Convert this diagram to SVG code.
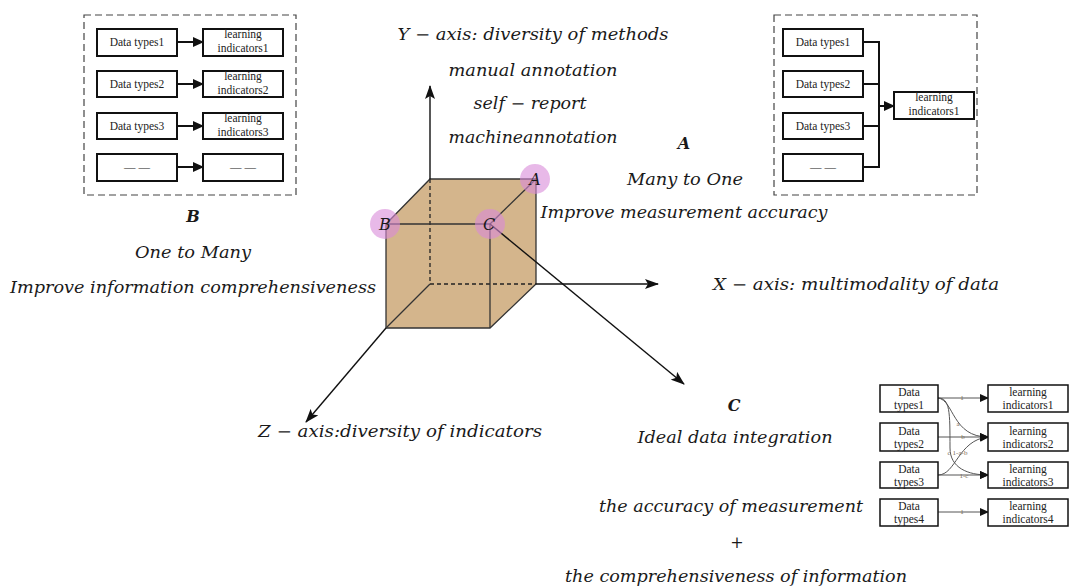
<svg xmlns="http://www.w3.org/2000/svg" width="1071" height="586" viewBox="0 0 1071 586">
  <style>
    .math { font-family: "DejaVu Serif", "Liberation Serif", serif; font-style: italic; font-size: 16px; fill: #1a1a1a; text-anchor: middle; }
    .bold { font-weight: bold; }
    .box { fill: #ffffff; stroke: #111111; stroke-width: 2; }
    .boxc { fill: #ffffff; stroke: #111111; stroke-width: 1.5; }
    .small { font-family: "Liberation Serif", "DejaVu Serif", serif; font-size: 11.5px; fill: #222222; text-anchor: middle; }
    .frame { fill: none; stroke: #444444; stroke-width: 1.2; stroke-dasharray: 7 4; }
    .link { fill: none; stroke: #111111; stroke-width: 2; }
    .axis { fill: none; stroke: #111111; stroke-width: 1.4; }
    .edge { fill: none; stroke: #333333; stroke-width: 1.3; }
    .hidden { fill: none; stroke: #222222; stroke-width: 1.3; stroke-dasharray: 4 3; }
    .gray { fill: none; stroke: #555555; stroke-width: 1; }
    .tiny { font-family: "Liberation Serif", "DejaVu Serif", serif; font-size: 7px; fill: #7a6a55; text-anchor: middle; }
    .spot { fill: #d98ad8; fill-opacity: 0.6; }
  </style>
  <defs>
    <marker id="headBig" markerUnits="userSpaceOnUse" markerWidth="14" markerHeight="10" refX="13" refY="5" orient="auto">
      <path d="M0,0 L14,5 L0,10 L3,5 Z" fill="#111111"/>
    </marker>
    <marker id="headBox" markerUnits="userSpaceOnUse" markerWidth="11" markerHeight="10" refX="10" refY="5" orient="auto">
      <path d="M0,0 L11,5 L0,10 Z" fill="#111111"/>
    </marker>
    <marker id="headSmall" markerUnits="userSpaceOnUse" markerWidth="9" markerHeight="8" refX="8" refY="4" orient="auto">
      <path d="M0,0 L9,4 L0,8 Z" fill="#111111"/>
    </marker>
  </defs>

  <!-- ===== Cube with the three axes ===== -->
  <g id="cube">
    <path d="M386,224 L430,179 L536,179 L536,284 L490,328 L386,328 Z" fill="#d4b58c" stroke="#333333" stroke-width="1.3"/>
    <!-- hidden edges -->
    <line class="hidden" x1="430" y1="179" x2="430" y2="284"/>
    <line class="hidden" x1="430" y1="284" x2="536" y2="284"/>
    <!-- visible edges -->
    <line class="edge" x1="386" y1="224" x2="490" y2="224"/>
    <line class="edge" x1="490" y1="224" x2="490" y2="328"/>
    <line class="edge" x1="490" y1="224" x2="536" y2="179"/>
    <line class="edge" x1="430" y1="284" x2="386" y2="328"/>
  </g>

  <g id="connectors">
    <!-- Y axis -->
    <line class="axis" x1="430" y1="179" x2="430" y2="86" marker-end="url(#headBig)"/>
    <!-- X axis -->
    <line class="axis" x1="536" y1="284" x2="658" y2="284" marker-end="url(#headBig)"/>
    <!-- Z axis -->
    <line class="axis" x1="386" y1="328" x2="306" y2="422" marker-end="url(#headBig)"/>
    <!-- towards C -->
    <line class="axis" x1="490" y1="224" x2="684" y2="384" marker-end="url(#headBig)"/>

    <!-- panel B: one to many -->
    <line class="link" x1="177" y1="42" x2="203" y2="42" marker-end="url(#headBox)"/>
    <line class="link" x1="177" y1="84" x2="203" y2="84" marker-end="url(#headBox)"/>
    <line class="link" x1="177" y1="126" x2="203" y2="126" marker-end="url(#headBox)"/>
    <line class="link" x1="177" y1="167" x2="203" y2="167" marker-end="url(#headBox)"/>

    <!-- panel A: many to one -->
    <path class="link" d="M863,42 H879 M863,84 H879 M863,126 H879 M863,167 H879 M879,41 V168"/>
    <line class="link" x1="879" y1="106" x2="894" y2="106" marker-end="url(#headBox)"/>

    <!-- panel C: weighted integration -->
    <line class="gray" x1="938" y1="398" x2="988" y2="398" marker-end="url(#headSmall)"/>
    <path class="gray" d="M938,398 C954,400 952,437 988,437" marker-end="url(#headSmall)"/>
    <line class="gray" x1="938" y1="437" x2="988" y2="437" marker-end="url(#headSmall)"/>
    <path class="gray" d="M938,398 C950,398 950,412 950,448 C950,468 968,475 988,475" marker-end="url(#headSmall)"/>
    <path class="gray" d="M938,475 C956,475 958,440 988,437" marker-end="url(#headSmall)"/>
    <line class="gray" x1="938" y1="475" x2="988" y2="475" marker-end="url(#headSmall)"/>
    <line class="gray" x1="938" y1="512" x2="988" y2="512" marker-end="url(#headSmall)"/>
    <text class="tiny" x="962" y="400">1</text>
    <text class="tiny" x="958" y="426">a</text>
    <text class="tiny" x="963" y="439">b</text>
    <text class="tiny" x="949" y="455">c</text>
    <text class="tiny" x="960" y="455">1-a-b</text>
    <text class="tiny" x="964" y="478">1-c</text>
    <text class="tiny" x="962" y="514">1</text>
  </g>

  <!-- highlighted corners -->
  <g id="pointA">
    <circle class="spot" cx="535" cy="179" r="15"/>
    <text class="math" x="535" y="185">A</text>
  </g>
  <g id="pointB">
    <circle class="spot" cx="385" cy="224" r="15"/>
    <text class="math" x="385" y="230">B</text>
  </g>
  <g id="pointC">
    <circle class="spot" cx="490" cy="224" r="15"/>
    <text class="math" x="489" y="230">C</text>
  </g>

  <!-- axis captions -->
  <g id="yLabel">
    <text class="math" x="533" y="40" textLength="271" lengthAdjust="spacingAndGlyphs">Y − axis: diversity of methods</text>
    <text class="math" x="533" y="76" textLength="169" lengthAdjust="spacingAndGlyphs">manual annotation</text>
    <text class="math" x="530" y="109" textLength="113" lengthAdjust="spacingAndGlyphs">self − report</text>
    <text class="math" x="533" y="143" textLength="169" lengthAdjust="spacingAndGlyphs">machineannotation</text>
  </g>
  <g id="xLabel">
    <text class="math" x="856" y="290" textLength="286" lengthAdjust="spacingAndGlyphs">X − axis: multimodality of data</text>
  </g>
  <g id="zLabel">
    <text class="math" x="400" y="437" textLength="284" lengthAdjust="spacingAndGlyphs">Z − axis:diversity of indicators</text>
  </g>

  <!-- A caption -->
  <g id="captionA">
    <text class="math bold" x="684" y="149">A</text>
    <text class="math" x="685" y="185" textLength="116" lengthAdjust="spacingAndGlyphs">Many to One</text>
    <text class="math" x="684" y="218" textLength="287" lengthAdjust="spacingAndGlyphs">Improve measurement accuracy</text>
  </g>

  <!-- B caption -->
  <g id="captionB">
    <text class="math bold" x="193" y="222">B</text>
    <text class="math" x="193" y="258" textLength="116" lengthAdjust="spacingAndGlyphs">One to Many</text>
    <text class="math" x="193" y="293" textLength="366" lengthAdjust="spacingAndGlyphs">Improve information comprehensiveness</text>
  </g>

  <!-- C caption -->
  <g id="captionC">
    <text class="math bold" x="734" y="411">C</text>
    <text class="math" x="735" y="443" textLength="195" lengthAdjust="spacingAndGlyphs">Ideal data integration</text>
    <text class="math" x="731" y="512" textLength="264" lengthAdjust="spacingAndGlyphs">the accuracy of measurement</text>
    <text class="math" x="737" y="548" style="font-style:normal">+</text>
    <text class="math" x="736" y="582" textLength="342" lengthAdjust="spacingAndGlyphs">the comprehensiveness of information</text>
  </g>

  <!-- ===== Panel B: one data type to one indicator ===== -->
  <g id="panelB">
    <rect class="frame" x="84" y="15" width="212" height="180"/>
    <g id="b-data1"><rect class="box" x="97" y="29" width="80" height="27"/><text class="small" x="137" y="46">Data types1</text></g>
    <g id="b-data2"><rect class="box" x="97" y="71" width="80" height="26"/><text class="small" x="137" y="88">Data types2</text></g>
    <g id="b-data3"><rect class="box" x="97" y="113" width="80" height="26"/><text class="small" x="137" y="130">Data types3</text></g>
    <g id="b-data4"><rect class="box" x="97" y="154" width="80" height="27"/><text class="small" x="137" y="171">— —</text></g>
    <g id="b-ind1"><rect class="box" x="203" y="29" width="80" height="27"/><text class="small" x="243" y="38">learning</text><text class="small" x="243" y="52">indicators1</text></g>
    <g id="b-ind2"><rect class="box" x="203" y="71" width="80" height="26"/><text class="small" x="243" y="80">learning</text><text class="small" x="243" y="94">indicators2</text></g>
    <g id="b-ind3"><rect class="box" x="203" y="113" width="80" height="26"/><text class="small" x="243" y="122">learning</text><text class="small" x="243" y="136">indicators3</text></g>
    <g id="b-ind4"><rect class="box" x="203" y="154" width="80" height="27"/><text class="small" x="243" y="171">— —</text></g>
  </g>

  <!-- ===== Panel A: several data types to one indicator ===== -->
  <g id="panelA">
    <rect class="frame" x="774" y="15" width="203" height="180"/>
    <g id="a-data1"><rect class="box" x="783" y="29" width="80" height="27"/><text class="small" x="823" y="46">Data types1</text></g>
    <g id="a-data2"><rect class="box" x="783" y="71" width="80" height="26"/><text class="small" x="823" y="88">Data types2</text></g>
    <g id="a-data3"><rect class="box" x="783" y="113" width="80" height="26"/><text class="small" x="823" y="130">Data types3</text></g>
    <g id="a-data4"><rect class="box" x="783" y="154" width="80" height="27"/><text class="small" x="823" y="171">— —</text></g>
    <g id="a-ind1"><rect class="box" x="894" y="92" width="80" height="27"/><text class="small" x="934" y="101">learning</text><text class="small" x="934" y="115">indicators1</text></g>
  </g>

  <!-- ===== Panel C: weighted mapping ===== -->
  <g id="panelC">
    <g id="c-data1"><rect class="boxc" x="880" y="385" width="58" height="27"/><text class="small" x="909" y="396">Data</text><text class="small" x="909" y="409">types1</text></g>
    <g id="c-data2"><rect class="boxc" x="880" y="423" width="58" height="28"/><text class="small" x="909" y="435">Data</text><text class="small" x="909" y="448">types2</text></g>
    <g id="c-data3"><rect class="boxc" x="880" y="462" width="58" height="26"/><text class="small" x="909" y="473">Data</text><text class="small" x="909" y="486">types3</text></g>
    <g id="c-data4"><rect class="boxc" x="880" y="499" width="58" height="27"/><text class="small" x="909" y="510">Data</text><text class="small" x="909" y="523">types4</text></g>
    <g id="c-ind1"><rect class="boxc" x="988" y="385" width="80" height="27"/><text class="small" x="1028" y="396">learning</text><text class="small" x="1028" y="409">indicators1</text></g>
    <g id="c-ind2"><rect class="boxc" x="988" y="423" width="80" height="28"/><text class="small" x="1028" y="435">learning</text><text class="small" x="1028" y="448">indicators2</text></g>
    <g id="c-ind3"><rect class="boxc" x="988" y="462" width="80" height="26"/><text class="small" x="1028" y="473">learning</text><text class="small" x="1028" y="486">indicators3</text></g>
    <g id="c-ind4"><rect class="boxc" x="988" y="499" width="80" height="27"/><text class="small" x="1028" y="510">learning</text><text class="small" x="1028" y="523">indicators4</text></g>
  </g>
</svg>
